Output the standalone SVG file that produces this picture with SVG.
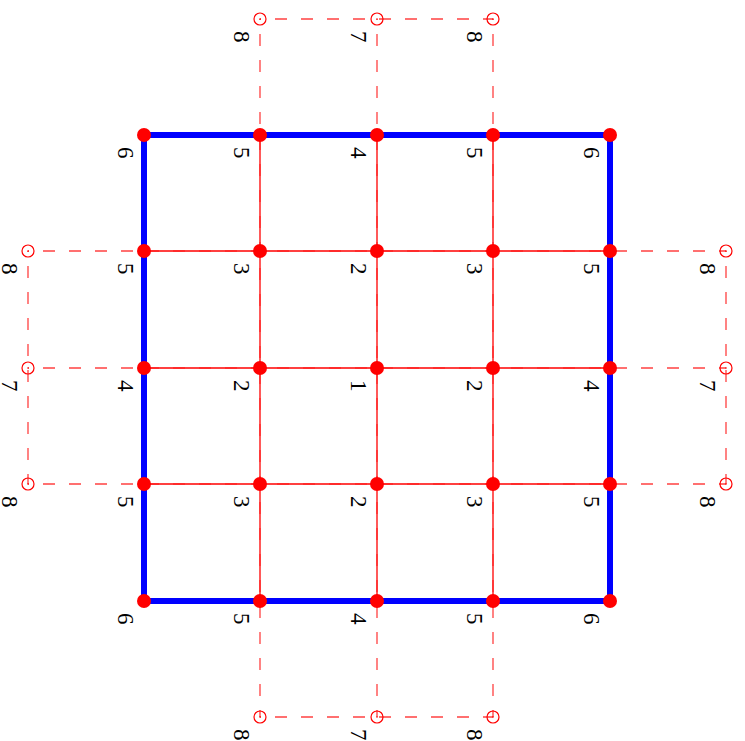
<svg xmlns="http://www.w3.org/2000/svg" width="745" height="741" viewBox="0 0 745 741">
<style>
.sol{stroke:#ff0000;stroke-width:1.3;fill:none}
.dash{stroke:#ff2020;stroke-opacity:0.85;stroke-width:1.3;stroke-dasharray:12,14;stroke-dashoffset:11;fill:none}
.border{stroke:#0000ff;stroke-width:6;fill:none;stroke-linecap:square}
.dot{fill:#ff0000}
.open{fill:none;stroke:#ff0000;stroke-width:1.2}
.cdot{fill:#ff0000}
text{font-family:"Liberation Serif","Times New Roman",serif;font-size:23px;fill:#000}
</style>
<rect width="745" height="741" fill="#fff"/>
<g id="connectors">
<line class="sol" x1="260" y1="135" x2="260" y2="601"/>
<line class="sol" x1="377" y1="135" x2="377" y2="601"/>
<line class="sol" x1="493" y1="135" x2="493" y2="601"/>
<line class="sol" x1="144" y1="251" x2="610" y2="251"/>
<line class="sol" x1="144" y1="368" x2="610" y2="368"/>
<line class="sol" x1="144" y1="484" x2="610" y2="484"/>
<line class="dash" x1="260" y1="19" x2="260" y2="717"/>
<line class="dash" x1="377" y1="19" x2="377" y2="717"/>
<line class="dash" x1="493" y1="19" x2="493" y2="717"/>
<line class="dash" x1="28" y1="251" x2="726" y2="251"/>
<line class="dash" x1="28" y1="368" x2="726" y2="368"/>
<line class="dash" x1="28" y1="484" x2="726" y2="484"/>
<line class="dash" x1="260" y1="19" x2="493" y2="19"/>
<line class="dash" x1="260" y1="717" x2="493" y2="717"/>
<line class="dash" x1="28" y1="251" x2="28" y2="484"/>
<line class="dash" x1="726" y1="251" x2="726" y2="484"/>
<rect class="border" x="144" y="135" width="466" height="466"/>
</g>
<g id="outer-nodes">
<g id="o-t1"><circle class="open" cx="260" cy="19" r="6"/><circle class="cdot" cx="260" cy="19" r="0.8"/><text transform="translate(234,31) rotate(90)">8</text></g>
<g id="o-t2"><circle class="open" cx="377" cy="19" r="6"/><circle class="cdot" cx="377" cy="19" r="0.8"/><text transform="translate(351,31) rotate(90)">7</text></g>
<g id="o-t3"><circle class="open" cx="493" cy="19" r="6"/><circle class="cdot" cx="493" cy="19" r="0.8"/><text transform="translate(467,31) rotate(90)">8</text></g>
<g id="o-b1"><circle class="open" cx="260" cy="717" r="6"/><circle class="cdot" cx="260" cy="717" r="0.8"/><text transform="translate(234,729) rotate(90)">8</text></g>
<g id="o-b2"><circle class="open" cx="377" cy="717" r="6"/><circle class="cdot" cx="377" cy="717" r="0.8"/><text transform="translate(351,729) rotate(90)">7</text></g>
<g id="o-b3"><circle class="open" cx="493" cy="717" r="6"/><circle class="cdot" cx="493" cy="717" r="0.8"/><text transform="translate(467,729) rotate(90)">8</text></g>
<g id="o-l1"><circle class="open" cx="28" cy="251" r="6"/><circle class="cdot" cx="28" cy="251" r="0.8"/><text transform="translate(2,263) rotate(90)">8</text></g>
<g id="o-l2"><circle class="open" cx="28" cy="368" r="6"/><circle class="cdot" cx="28" cy="368" r="0.8"/><text transform="translate(2,380) rotate(90)">7</text></g>
<g id="o-l3"><circle class="open" cx="28" cy="484" r="6"/><circle class="cdot" cx="28" cy="484" r="0.8"/><text transform="translate(2,496) rotate(90)">8</text></g>
<g id="o-r1"><circle class="open" cx="726" cy="251" r="6"/><circle class="cdot" cx="726" cy="251" r="0.8"/><text transform="translate(700,263) rotate(90)">8</text></g>
<g id="o-r2"><circle class="open" cx="726" cy="368" r="6"/><circle class="cdot" cx="726" cy="368" r="0.8"/><text transform="translate(700,380) rotate(90)">7</text></g>
<g id="o-r3"><circle class="open" cx="726" cy="484" r="6"/><circle class="cdot" cx="726" cy="484" r="0.8"/><text transform="translate(700,496) rotate(90)">8</text></g>
</g>
<g id="grid-nodes">
<g id="n00"><circle class="dot" cx="144" cy="135" r="7"/><text transform="translate(118,147) rotate(90)">6</text></g>
<g id="n01"><circle class="dot" cx="260" cy="135" r="7"/><text transform="translate(234,147) rotate(90)">5</text></g>
<g id="n02"><circle class="dot" cx="377" cy="135" r="7"/><text transform="translate(351,147) rotate(90)">4</text></g>
<g id="n03"><circle class="dot" cx="493" cy="135" r="7"/><text transform="translate(467,147) rotate(90)">5</text></g>
<g id="n04"><circle class="dot" cx="610" cy="135" r="7"/><text transform="translate(584,147) rotate(90)">6</text></g>
<g id="n10"><circle class="dot" cx="144" cy="251" r="7"/><text transform="translate(118,263) rotate(90)">5</text></g>
<g id="n11"><circle class="dot" cx="260" cy="251" r="7"/><text transform="translate(234,263) rotate(90)">3</text></g>
<g id="n12"><circle class="dot" cx="377" cy="251" r="7"/><text transform="translate(351,263) rotate(90)">2</text></g>
<g id="n13"><circle class="dot" cx="493" cy="251" r="7"/><text transform="translate(467,263) rotate(90)">3</text></g>
<g id="n14"><circle class="dot" cx="610" cy="251" r="7"/><text transform="translate(584,263) rotate(90)">5</text></g>
<g id="n20"><circle class="dot" cx="144" cy="368" r="7"/><text transform="translate(118,380) rotate(90)">4</text></g>
<g id="n21"><circle class="dot" cx="260" cy="368" r="7"/><text transform="translate(234,380) rotate(90)">2</text></g>
<g id="n22"><circle class="dot" cx="377" cy="368" r="7"/><text transform="translate(351,380) rotate(90)">1</text></g>
<g id="n23"><circle class="dot" cx="493" cy="368" r="7"/><text transform="translate(467,380) rotate(90)">2</text></g>
<g id="n24"><circle class="dot" cx="610" cy="368" r="7"/><text transform="translate(584,380) rotate(90)">4</text></g>
<g id="n30"><circle class="dot" cx="144" cy="484" r="7"/><text transform="translate(118,496) rotate(90)">5</text></g>
<g id="n31"><circle class="dot" cx="260" cy="484" r="7"/><text transform="translate(234,496) rotate(90)">3</text></g>
<g id="n32"><circle class="dot" cx="377" cy="484" r="7"/><text transform="translate(351,496) rotate(90)">2</text></g>
<g id="n33"><circle class="dot" cx="493" cy="484" r="7"/><text transform="translate(467,496) rotate(90)">3</text></g>
<g id="n34"><circle class="dot" cx="610" cy="484" r="7"/><text transform="translate(584,496) rotate(90)">5</text></g>
<g id="n40"><circle class="dot" cx="144" cy="601" r="7"/><text transform="translate(118,613) rotate(90)">6</text></g>
<g id="n41"><circle class="dot" cx="260" cy="601" r="7"/><text transform="translate(234,613) rotate(90)">5</text></g>
<g id="n42"><circle class="dot" cx="377" cy="601" r="7"/><text transform="translate(351,613) rotate(90)">4</text></g>
<g id="n43"><circle class="dot" cx="493" cy="601" r="7"/><text transform="translate(467,613) rotate(90)">5</text></g>
<g id="n44"><circle class="dot" cx="610" cy="601" r="7"/><text transform="translate(584,613) rotate(90)">6</text></g>
</g>
</svg>
